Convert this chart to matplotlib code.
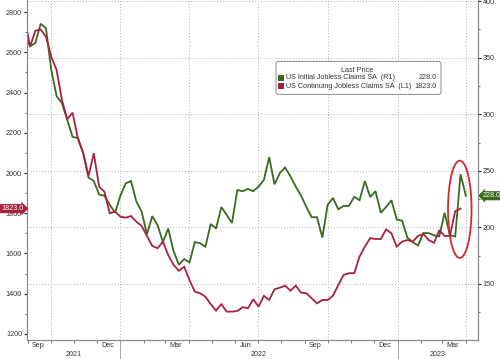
import numpy as np
import pandas as pd
import matplotlib
matplotlib.use("Agg")
import matplotlib.pyplot as plt
import matplotlib.dates as mdates
from matplotlib.patches import Ellipse, FancyBboxPatch, Rectangle
from matplotlib.transforms import blended_transform_factory

plt.rcParams["font.family"] = ["Liberation Sans", "DejaVu Sans"]

# --- Data (weekly) ---
initial_claims = [
    372, 360, 363, 380, 376, 339, 316, 310, 295, 280, 279, 266, 244, 241, 229, 228,
    220, 213, 228, 239, 241, 223, 214, 194, 210, 202, 187, 199, 179, 167, 172, 169,
    187, 186, 183, 203, 199, 218, 211, 204, 233, 232, 234, 232, 236, 242, 262, 238,
    248, 253, 245, 236, 228, 218, 209, 209, 191, 220, 226, 216, 219, 219, 227, 224,
    241, 227, 232, 213, 218, 224, 207, 206, 191, 187, 184, 195, 195, 193, 192, 213,
    193, 192, 247, 228,
]
continuing_claims = [
    2770, 2628, 2707, 2714, 2677, 2578, 2512, 2363, 2267, 2300, 2172, 2098, 1985, 2098,
    1932, 1907, 1800, 1808, 1783, 1778, 1786, 1758, 1737, 1687, 1637, 1626, 1659, 1592,
    1543, 1514, 1534, 1468, 1410, 1402, 1385, 1348, 1316, 1348, 1311, 1311, 1314, 1333,
    1328, 1372, 1336, 1389, 1369, 1422, 1430, 1440, 1415, 1440, 1405, 1402, 1377, 1352,
    1369, 1369, 1390, 1443, 1493, 1502, 1502, 1585, 1634, 1676, 1672, 1672, 1720, 1700,
    1634, 1659, 1667, 1659, 1687, 1697, 1667, 1653, 1716, 1687, 1687, 1810, 1823,
]
weeks = pd.date_range("2021-08-28", periods=len(initial_claims), freq="7D")

years = ["2021", "2022", "2023"]

GREEN = "#3b6a1e"
RED = "#a8213f"
GRID = "#b0b0b0"
TXT = "#333333"
FS = 5.2

x_start, x_end = pd.Timestamp("2021-08-31"), pd.Timestamp("2023-04-17")

fig = plt.figure(figsize=(5, 3.59), dpi=100)
ax = fig.add_axes([0.054, 0.053, 0.902, 0.947])
ax2 = ax.twinx()

# red (left axis) drawn on top
ax.set_zorder(ax2.get_zorder() + 1)
ax.patch.set_visible(False)

ax2.plot(weeks, initial_claims, color=GREEN, lw=1.3, solid_joinstyle="miter")
ax.plot(weeks[:len(continuing_claims)], continuing_claims, color=RED, lw=1.3,
        solid_joinstyle="miter")

ax.set_xlim(x_start, x_end)
ax.set_ylim(1170, 2860)
ax2.set_ylim(100.5, 401)

# y ticks
ax.yaxis.set_major_locator(plt.MultipleLocator(200))
ax.yaxis.set_minor_locator(plt.MultipleLocator(100))
ax2.yaxis.set_major_locator(plt.MultipleLocator(50))
ax2.yaxis.set_minor_locator(plt.MultipleLocator(25))
for a in (ax, ax2):
    a.tick_params(axis="y", which="major", length=2.5, width=0.8, color="#222222",
                  labelsize=FS, labelcolor=TXT, pad=1)
    a.tick_params(axis="y", which="minor", length=1.3, width=0.6, color="#555555")
ax2.set_yticks([150, 200, 250, 300, 350, 400])

# x ticks: month marks, labels mid-month
ax.xaxis.set_major_locator(mdates.MonthLocator())
ax.xaxis.set_major_formatter(plt.NullFormatter())
ax.xaxis.set_minor_locator(mdates.MonthLocator(bymonth=[3, 6, 9, 12], bymonthday=15))
ax.xaxis.set_minor_formatter(mdates.DateFormatter("%b"))
ax.tick_params(axis="x", which="major", length=2, width=0.6, color="#666666")
ax.tick_params(axis="x", which="minor", length=0, labelsize=FS, labelcolor=TXT, pad=1.2)
ax2.tick_params(axis="x", which="both", length=0)

for a in (ax, ax2):
    a.spines["top"].set_visible(False)
    for side in ("left", "right", "bottom"):
        a.spines[side].set_color("#8a8a8a")
        a.spines[side].set_linewidth(0.8)

# grid: horizontal on right axis majors, vertical at quarter starts
ax2.yaxis.grid(True, color=GRID, lw=0.7, ls=(0, (1, 2)))
ax2.set_axisbelow(True)
for q in pd.date_range("2021-10-01", "2023-04-01", freq="QS"):
    ax2.axvline(q, color=GRID, lw=0.7, ls=(0, (1, 2)), zorder=0)

# year labels and separators
bt = blended_transform_factory(ax.transData, ax.transAxes)
year_bounds = [x_start, pd.Timestamp("2022-01-01"), pd.Timestamp("2023-01-01"), x_end]
for i, yr in enumerate(years):
    mid = year_bounds[i] + (year_bounds[i + 1] - year_bounds[i]) / 2
    ax.text(mid, -0.042, yr, transform=bt, ha="center", va="center",
            fontsize=FS, color=TXT)
for b in year_bounds[1:3]:
    ax.plot([b, b], [0, -0.06], transform=bt, color="#999999", lw=0.6, clip_on=False)

# last-value tags
lt = blended_transform_factory(ax.transAxes, ax.transData)
ax.text(-0.008, continuing_claims[-1], f"{continuing_claims[-1]:.1f}", transform=lt,
        ha="right", va="center", fontsize=FS, color="white", zorder=10,
        bbox=dict(boxstyle="rarrow,pad=0.15", fc=RED, ec="none"))
rt = blended_transform_factory(ax2.transAxes, ax2.transData)
ax2.text(1.011, initial_claims[-1], f"{initial_claims[-1]:.1f}", transform=rt,
         ha="left", va="center", fontsize=FS, color="white", zorder=10,
         bbox=dict(boxstyle="larrow,pad=0.15", fc=GREEN, ec="none"))

# highlight ellipse
ell_center = (mdates.date2num(pd.Timestamp("2023-03-24")), 216)
ax2.add_patch(Ellipse(ell_center, width=31, height=86, fill=False,
                      ec="#d42a2f", lw=1.3, zorder=5))

# legend box
fig.patches.append(FancyBboxPatch((0.552, 0.737), 0.330, 0.092, transform=fig.transFigure,
                                  boxstyle="round,pad=0,rounding_size=0.006",
                                  fc="white", ec="#9a9a9a", lw=0.8))
fig.text(0.714, 0.803, "Last Price", ha="center", va="center", fontsize=FS, color=TXT)
rows = [("US Initial Jobless Claims SA  (R1)", initial_claims[-1], GREEN, 0.783),
        ("US Continuing Jobless Claims SA  (L1)", continuing_claims[-1], RED, 0.760)]
for label, val, col, yy in rows:
    fig.patches.append(Rectangle((0.555, yy - 0.009), 0.012, 0.018,
                                 transform=fig.transFigure, fc=col, ec="none"))
    fig.text(0.571, yy, label, ha="left", va="center", fontsize=FS, color=TXT)
    fig.text(0.874, yy, f"{val:.1f}", ha="right", va="center", fontsize=FS, color=TXT)

fig.savefig("out.png", dpi=100)
